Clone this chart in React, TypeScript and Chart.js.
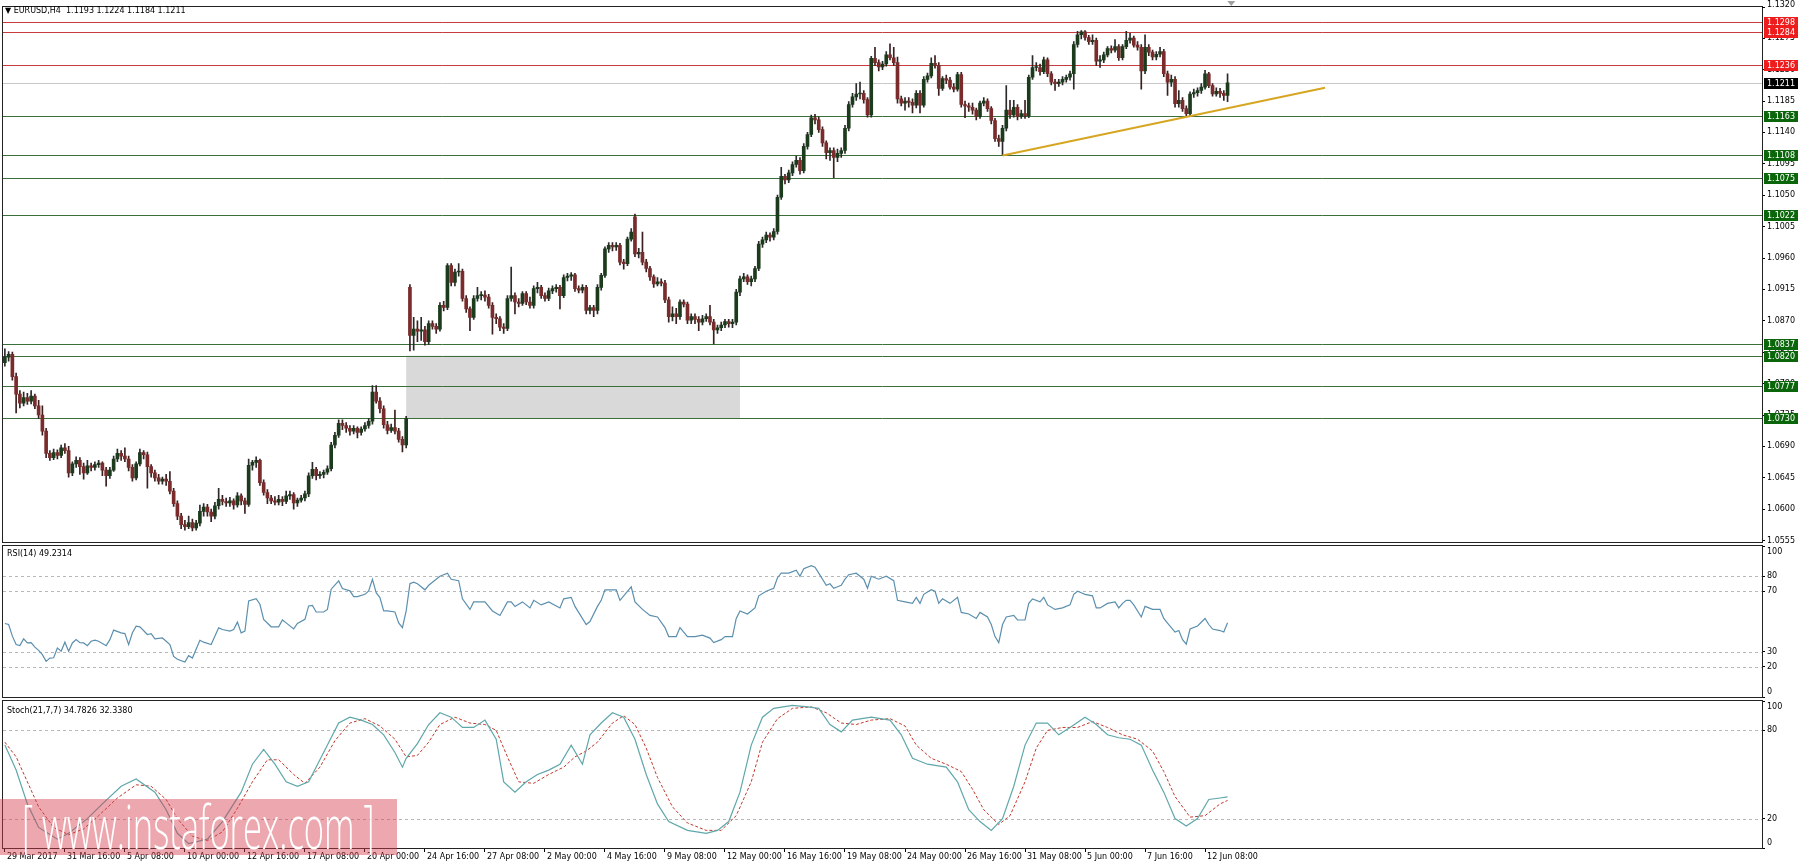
import { useEffect, useRef } from "react";
import { Chart, registerables } from "chart.js";
Chart.register(...registerables);

const W = 1800;
const H = 868;
const PLOT_LEFT = 3;
const AXIS_W = 38;
const X_MIN = -0.5;
const X_MAX = 468.5;
const MAIN_TOP = 1;
const MAIN_BOTTOM = 542;
const RSI_TOP = 546;
const RSI_BOTTOM = 697;
const STO_TOP = 701;
const STO_BOTTOM = 848;
const XAXIS_H = 20;

const headerText = "EURUSD,H4  1.1193 1.1224 1.1184 1.1211";
const rsiTitle = "RSI(14) 49.2314";
const stochTitle = "Stoch(21,7,7) 34.7826 32.3380";
const watermarkText = "[ www.instaforex.com ]";

const opens = [
  1.0810,1.0818,1.0822,1.0790,1.0765,1.0752,1.0760,1.0755,1.0762,1.0748,
  1.0735,1.0712,1.0680,1.0674,1.0681,1.0677,1.0688,1.0684,1.0652,1.0665,
  1.0670,1.0661,1.0652,1.0662,1.0660,1.0664,1.0666,1.0656,1.0648,1.0656,
  1.0672,1.0680,1.0676,1.0672,1.0660,1.0645,1.0665,1.0681,1.0678,1.0661,
  1.0652,1.0645,1.0640,1.0643,1.0640,1.0626,1.0608,1.0590,1.0578,1.0575,
  1.0581,1.0573,1.0580,1.0597,1.0603,1.0596,1.0590,1.0605,1.0614,1.0611,
  1.0609,1.0612,1.0606,1.0619,1.0612,1.0607,1.0663,1.0667,1.0670,1.0638,
  1.0624,1.0616,1.0612,1.0610,1.0614,1.0611,1.0619,1.0621,1.0609,1.0613,
  1.0616,1.0622,1.0648,1.0657,1.0648,1.0650,1.0653,1.0658,1.0692,1.0706,
  1.0723,1.0720,1.0716,1.0712,1.0716,1.0710,1.0715,1.0720,1.0726,1.0768,
  1.0755,1.0744,1.0721,1.0713,1.0717,1.0712,1.0700,1.0692,1.0918,1.0849,
  1.0858,1.0855,1.0857,1.0840,1.0866,1.0862,1.0858,1.0892,1.0889,1.0949,
  1.0925,1.0940,1.0941,1.0902,1.0887,1.0875,1.0902,1.0906,1.0907,1.0904,
  1.0892,1.0875,1.0873,1.0861,1.0859,1.0902,1.0906,1.0897,1.0895,1.0909,
  1.0897,1.0892,1.0916,1.0918,1.0906,1.0902,1.0913,1.0916,1.0918,1.0906,
  1.0932,1.0934,1.0936,1.0916,1.0914,1.0918,1.0885,1.0889,1.0885,1.0918,
  1.0935,1.0973,1.0978,1.0976,1.0978,1.0954,1.0952,1.0987,1.1019,1.0966,
  1.0968,1.0954,1.0945,1.0933,1.0923,1.0926,1.0924,1.0900,1.0876,1.0880,
  1.0876,1.0897,1.0894,1.0871,1.0876,1.0872,1.0868,1.0873,1.0876,1.0868,
  1.0857,1.0860,1.0864,1.0869,1.0866,1.0868,1.0911,1.0930,1.0933,1.0926,
  1.0930,1.0945,1.0980,1.0986,1.0993,1.0990,1.0998,1.1047,1.1077,1.1072,
  1.1082,1.1094,1.1100,1.1085,1.1120,1.1137,1.1161,1.1158,1.1144,1.1125,
  1.1111,1.1114,1.1104,1.1110,1.1114,1.1146,1.1180,1.1191,1.1195,1.1196,
  1.1187,1.1165,1.1246,1.1240,1.1234,1.1238,1.1251,1.1247,1.1240,1.1188,
  1.1182,1.1185,1.1183,1.1179,1.1196,1.1179,1.1216,1.1221,1.1239,1.1236,
  1.1203,1.1217,1.1215,1.1205,1.1202,1.1223,1.1180,1.1178,1.1176,1.1172,
  1.1163,1.1182,1.1185,1.1174,1.1157,1.1131,1.1127,1.1146,1.1172,1.1165,
  1.1176,1.1163,1.1167,1.1164,1.1219,1.1233,1.1233,1.1227,1.1244,1.1224,
  1.1212,1.1210,1.1212,1.1216,1.1219,1.1224,1.1266,1.1280,1.1284,1.1276,
  1.1270,1.1272,1.1242,1.1244,1.1251,1.1260,1.1258,1.1263,1.1247,1.1263,
  1.1272,1.1275,1.1265,1.1262,1.1228,1.1262,1.1255,1.1248,1.1252,1.1256,
  1.1224,1.1212,1.1216,1.1181,1.1186,1.1174,1.1167,1.1195,1.1197,1.1200,
  1.1205,1.1224,1.1207,1.1195,1.1199,1.1196,1.1193,
];
const highs = [
  1.0830,1.0826,1.0825,1.0795,1.0770,1.0768,1.0766,1.0770,1.0765,1.0756,
  1.0748,1.0716,1.0684,1.0686,1.0685,1.0692,1.0694,1.0690,1.0668,1.0675,
  1.0674,1.0666,1.0670,1.0666,1.0668,1.0670,1.0668,1.0660,1.0660,1.0676,
  1.0686,1.0684,1.0688,1.0676,1.0664,1.0668,1.0686,1.0684,1.0682,1.0664,
  1.0656,1.0650,1.0646,1.0650,1.0654,1.0630,1.0612,1.0594,1.0584,1.0590,
  1.0586,1.0584,1.0606,1.0608,1.0607,1.0600,1.0610,1.0630,1.0620,1.0616,
  1.0617,1.0615,1.0624,1.0622,1.0616,1.0672,1.0670,1.0675,1.0672,1.0642,
  1.0628,1.0620,1.0618,1.0620,1.0618,1.0626,1.0626,1.0624,1.0616,1.0620,
  1.0626,1.0652,1.0667,1.0660,1.0654,1.0656,1.0662,1.0696,1.0710,1.0728,
  1.0728,1.0724,1.0720,1.0720,1.0718,1.0718,1.0724,1.0730,1.0777,1.0777,
  1.0760,1.0748,1.0726,1.0722,1.0742,1.0716,1.0704,1.0733,1.0922,1.0875,
  1.0870,1.0875,1.0862,1.0870,1.0870,1.0866,1.0896,1.0898,1.0952,1.0952,
  1.0944,1.0952,1.0944,1.0906,1.0890,1.0906,1.0918,1.0912,1.0913,1.0908,
  1.0896,1.0880,1.0876,1.0866,1.0906,1.0947,1.0910,1.0902,1.0912,1.0912,
  1.0904,1.0920,1.0925,1.0921,1.0910,1.0917,1.0920,1.0922,1.0921,1.0936,
  1.0938,1.0939,1.0938,1.0920,1.0922,1.0921,1.0892,1.0892,1.0922,1.0938,
  1.0976,1.0982,1.0982,1.0982,1.0981,1.0958,1.0990,1.1002,1.1023,1.0974,
  1.0997,1.0958,1.0948,1.0936,1.0932,1.0930,1.0928,1.0904,1.0890,1.0888,
  1.0900,1.0900,1.0897,1.0880,1.0880,1.0876,1.0878,1.0880,1.0892,1.0872,
  1.0864,1.0868,1.0872,1.0872,1.0872,1.0915,1.0934,1.0938,1.0936,1.0934,
  1.0948,1.0984,1.0990,1.0997,1.0996,1.1002,1.1050,1.1090,1.1080,1.1086,
  1.1098,1.1106,1.1104,1.1124,1.1140,1.1165,1.1166,1.1162,1.1148,1.1128,
  1.1118,1.1118,1.1116,1.1118,1.1150,1.1184,1.1196,1.1210,1.1212,1.1200,
  1.1190,1.1249,1.1262,1.1244,1.1242,1.1256,1.1267,1.1262,1.1248,1.1192,
  1.1190,1.1190,1.1188,1.1200,1.1200,1.1220,1.1225,1.1247,1.1250,1.1240,
  1.1220,1.1222,1.1219,1.1210,1.1226,1.1226,1.1185,1.1182,1.1182,1.1175,
  1.1185,1.1190,1.1188,1.1177,1.1160,1.1136,1.1150,1.1207,1.1186,1.1186,
  1.1180,1.1172,1.1186,1.1222,1.1250,1.1240,1.1238,1.1248,1.1247,1.1227,
  1.1216,1.1216,1.1220,1.1222,1.1228,1.1270,1.1285,1.1286,1.1286,1.1279,
  1.1280,1.1275,1.1250,1.1255,1.1263,1.1264,1.1273,1.1266,1.1266,1.1285,
  1.1282,1.1278,1.1270,1.1266,1.1280,1.1266,1.1258,1.1256,1.1262,1.1259,
  1.1228,1.1222,1.1220,1.1200,1.1190,1.1178,1.1198,1.1202,1.1204,1.1210,
  1.1229,1.1226,1.1210,1.1204,1.1203,1.1200,1.1224,
];
const lows = [
  1.0805,1.0812,1.0785,1.0738,1.0745,1.0748,1.0750,1.0751,1.0744,1.0730,
  1.0706,1.0674,1.0670,1.0671,1.0672,1.0674,1.0680,1.0646,1.0648,1.0660,
  1.0650,1.0643,1.0650,1.0655,1.0656,1.0660,1.0648,1.0633,1.0644,1.0654,
  1.0668,1.0670,1.0668,1.0655,1.0640,1.0642,1.0662,1.0672,1.0630,1.0646,
  1.0640,1.0636,1.0636,1.0634,1.0622,1.0604,1.0585,1.0572,1.0570,1.0572,
  1.0569,1.0570,1.0576,1.0590,1.0590,1.0582,1.0586,1.0600,1.0606,1.0604,
  1.0604,1.0600,1.0603,1.0606,1.0594,1.0604,1.0656,1.0660,1.0634,1.0620,
  1.0608,1.0608,1.0606,1.0606,1.0605,1.0608,1.0614,1.0600,1.0604,1.0610,
  1.0612,1.0618,1.0644,1.0642,1.0644,1.0645,1.0650,1.0655,1.0688,1.0703,
  1.0714,1.0710,1.0706,1.0708,1.0702,1.0706,1.0712,1.0716,1.0722,1.0752,
  1.0738,1.0716,1.0708,1.0710,1.0708,1.0696,1.0682,1.0688,1.0827,1.0828,
  1.0840,1.0842,1.0835,1.0836,1.0858,1.0852,1.0855,1.0884,1.0886,1.0920,
  1.0920,1.0934,1.0898,1.0882,1.0856,1.0872,1.0898,1.0900,1.0898,1.0888,
  1.0851,1.0866,1.0856,1.0852,1.0856,1.0898,1.0880,1.0890,1.0892,1.0893,
  1.0888,1.0888,1.0910,1.0902,1.0898,1.0899,1.0909,1.0911,1.0887,1.0903,
  1.0927,1.0928,1.0912,1.0910,1.0910,1.0880,1.0880,1.0876,1.0880,1.0914,
  1.0932,1.0968,1.0970,1.0971,1.0950,1.0944,1.0949,1.0984,1.0962,1.0960,
  1.0950,1.0940,1.0928,1.0918,1.0920,1.0920,1.0896,1.0868,1.0870,1.0866,
  1.0872,1.0890,1.0866,1.0866,1.0866,1.0856,1.0864,1.0869,1.0864,1.0837,
  1.0852,1.0856,1.0860,1.0861,1.0860,1.0864,1.0906,1.0926,1.0922,1.0920,
  1.0926,1.0942,1.0975,1.0982,1.0984,1.0986,1.0994,1.1044,1.1066,1.1068,
  1.1078,1.1090,1.1080,1.1082,1.1116,1.1134,1.1152,1.1140,1.1120,1.1102,
  1.1100,1.1075,1.1098,1.1104,1.1110,1.1142,1.1176,1.1186,1.1188,1.1182,
  1.1162,1.1162,1.1236,1.1228,1.1230,1.1235,1.1244,1.1236,1.1182,1.1178,
  1.1172,1.1176,1.1168,1.1175,1.1168,1.1176,1.1212,1.1218,1.1232,1.1193,
  1.1200,1.1210,1.1202,1.1198,1.1199,1.1176,1.1161,1.1170,1.1166,1.1158,
  1.1160,1.1178,1.1170,1.1152,1.1127,1.1120,1.1108,1.1142,1.1160,1.1162,
  1.1158,1.1160,1.1160,1.1161,1.1216,1.1228,1.1222,1.1224,1.1220,1.1208,
  1.1200,1.1206,1.1208,1.1212,1.1215,1.1202,1.1262,1.1274,1.1272,1.1266,
  1.1266,1.1236,1.1233,1.1240,1.1248,1.1254,1.1255,1.1243,1.1244,1.1260,
  1.1268,1.1262,1.1258,1.1202,1.1224,1.1250,1.1244,1.1244,1.1248,1.1220,
  1.1193,1.1206,1.1176,1.1176,1.1170,1.1164,1.1163,1.1190,1.1192,1.1196,
  1.1202,1.1204,1.1192,1.1192,1.1190,1.1186,1.1184,
];
const closes = [
  1.0818,1.0822,1.0790,1.0765,1.0752,1.0760,1.0755,1.0762,1.0748,1.0735,
  1.0712,1.0680,1.0674,1.0681,1.0677,1.0688,1.0684,1.0652,1.0665,1.0670,
  1.0661,1.0652,1.0662,1.0660,1.0664,1.0666,1.0656,1.0648,1.0656,1.0672,
  1.0680,1.0676,1.0672,1.0660,1.0645,1.0665,1.0681,1.0678,1.0661,1.0652,
  1.0645,1.0640,1.0643,1.0640,1.0626,1.0608,1.0590,1.0578,1.0575,1.0581,
  1.0573,1.0580,1.0597,1.0603,1.0596,1.0590,1.0605,1.0614,1.0611,1.0609,
  1.0612,1.0606,1.0619,1.0612,1.0607,1.0663,1.0667,1.0670,1.0638,1.0624,
  1.0616,1.0612,1.0610,1.0614,1.0611,1.0619,1.0621,1.0609,1.0613,1.0616,
  1.0622,1.0648,1.0657,1.0648,1.0650,1.0653,1.0658,1.0692,1.0706,1.0723,
  1.0720,1.0716,1.0712,1.0716,1.0710,1.0715,1.0720,1.0726,1.0768,1.0755,
  1.0744,1.0721,1.0713,1.0717,1.0712,1.0700,1.0692,1.0730,1.0849,1.0858,
  1.0855,1.0857,1.0840,1.0866,1.0862,1.0858,1.0892,1.0889,1.0949,1.0925,
  1.0940,1.0941,1.0902,1.0887,1.0875,1.0902,1.0906,1.0907,1.0904,1.0892,
  1.0875,1.0873,1.0861,1.0859,1.0902,1.0906,1.0897,1.0895,1.0909,1.0897,
  1.0892,1.0916,1.0918,1.0906,1.0902,1.0913,1.0916,1.0918,1.0906,1.0932,
  1.0934,1.0936,1.0916,1.0914,1.0918,1.0885,1.0889,1.0885,1.0918,1.0935,
  1.0973,1.0978,1.0976,1.0978,1.0954,1.0952,1.0987,1.0997,1.0966,1.0968,
  1.0954,1.0945,1.0933,1.0923,1.0926,1.0924,1.0900,1.0876,1.0880,1.0876,
  1.0897,1.0894,1.0871,1.0876,1.0872,1.0868,1.0873,1.0876,1.0868,1.0857,
  1.0860,1.0864,1.0869,1.0866,1.0868,1.0911,1.0930,1.0933,1.0926,1.0930,
  1.0945,1.0980,1.0986,1.0993,1.0990,1.0998,1.1047,1.1077,1.1072,1.1082,
  1.1094,1.1100,1.1085,1.1120,1.1137,1.1161,1.1158,1.1144,1.1125,1.1111,
  1.1114,1.1104,1.1110,1.1114,1.1146,1.1180,1.1191,1.1195,1.1196,1.1187,
  1.1165,1.1246,1.1240,1.1234,1.1238,1.1251,1.1247,1.1240,1.1188,1.1182,
  1.1185,1.1183,1.1179,1.1196,1.1179,1.1216,1.1221,1.1239,1.1236,1.1203,
  1.1217,1.1215,1.1205,1.1202,1.1223,1.1180,1.1178,1.1176,1.1172,1.1163,
  1.1182,1.1185,1.1174,1.1157,1.1131,1.1127,1.1146,1.1172,1.1165,1.1176,
  1.1163,1.1167,1.1164,1.1219,1.1233,1.1233,1.1227,1.1244,1.1224,1.1212,
  1.1210,1.1212,1.1216,1.1219,1.1224,1.1266,1.1280,1.1284,1.1276,1.1270,
  1.1272,1.1242,1.1244,1.1251,1.1260,1.1258,1.1263,1.1247,1.1263,1.1272,
  1.1275,1.1265,1.1262,1.1228,1.1262,1.1255,1.1248,1.1252,1.1256,1.1224,
  1.1212,1.1216,1.1181,1.1186,1.1174,1.1167,1.1195,1.1197,1.1200,1.1205,
  1.1224,1.1207,1.1195,1.1199,1.1196,1.1193,1.1211,
];

const priceMin = 1.0553;
const priceMax = 1.1320;
const topPriceTick = 1.132;
const priceTicks = [1.1275,1.1230,1.1185,1.1140,1.1095,1.1050,1.1005,1.0960,1.0915,1.0870,1.0825,1.0780,1.0735,1.0690,1.0645,1.0600,1.0555];
const redLevels = [1.1298, 1.1284, 1.1236];
const greenLevels = [1.1163, 1.1108, 1.1075, 1.1022, 1.0837, 1.0820, 1.0777, 1.0730];
const bidPrice = 1.1211;
const zoneBars = [107, 196];
const zonePrices = [1.0730, 1.0820];
const trendBars = [266, 352];
const trendPrices = [1.1107, 1.1204];
const shiftMarkerBar = 327;

const rsiBars = [0,1,2,3,4,5,6,7,8,9,10,11,12,13,14,15,16,17,18,19,20,21,22,23,24,25,27,28,29,31,32,33,34,35,36,38,39,40,42,44,45,46,48,49,50,52,53,55,57,58,60,61,62,63,64,65,67,68,69,71,73,74,75,77,78,80,81,82,83,85,86,87,89,90,92,93,94,96,97,98,99,100,101,102,104,105,106,107,108,109,110,112,113,116,118,119,121,122,124,125,128,130,132,134,135,136,138,140,141,143,145,148,149,151,152,155,156,158,159,160,163,164,166,167,168,170,172,174,176,177,179,180,182,184,186,188,189,191,192,194,195,196,198,200,201,203,205,206,207,209,211,212,213,215,216,217,219,220,221,222,223,224,225,227,229,230,231,233,235,237,238,240,242,243,244,245,247,248,249,250,252,254,255,257,259,260,262,263,264,265,266,267,269,270,272,273,274,276,277,278,280,282,284,285,286,287,288,290,291,292,294,296,297,298,299,300,301,303,304,306,308,309,310,312,313,314,315,316,318,320,321,322,324,325,326];
const rsiValues = [48.7,48,40.3,34.7,34,38.5,35.8,36,33,30.9,28,23.6,25.8,26,32.5,30.3,36.3,30.3,35.8,38,36,35.8,34,36.9,37.6,36.9,34,38,44.3,42.5,42,34.7,42.5,46.9,46.5,41.4,42,38.5,39.1,34.7,26.9,25,23.1,27.4,25.8,37.6,36.3,34.7,45.8,44.7,43.6,44.7,49.6,42.5,43.6,63.6,65.1,61.4,51.4,46.5,46.5,51,49.1,45.1,48.7,51.4,60.3,60.7,56.3,56.3,58,71.4,76.9,71.8,70.3,66.5,66.5,68,70.3,78,69.1,65.8,57,57,56.3,49.1,46,57,75,76,75,71,74,80,82,78,77,65,58,63,63,57,54,63,63,60,63,59,64,61,63,59,65,66,60,48,50,60,64,71,71,64,70,73,63,58,54,53,46,40,40,46,40,40,41,39,36,38,40,40,52,57,55,59,67,70,72,79,82,82,84,80,85,87,86,82,74,75,72,73,74,78,81,82,78,72,80,78,80,77,64,63,62,66,62,68,71,70,62,65,62,66,56,55,52,56,53,48,40,36,48,53,54,51,51,62,65,63,66,61,58,59,61,68,70,69,68,67,59,59,62,63,59,62,64,64,61,53,60,58,58,52,49,43,44,38,35,45,47,52,48,45,44,43,49.2];
const rsiLevels = [80, 70, 30, 20];
const rsiTicks = [100, 80, 70, 30, 20, 0];

const stochKBars = [0,3,6,9,14,17,22,26,31,35,40,43,46,49,54,58,63,66,69,72,75,78,81,86,89,92,95,98,101,104,106,107,110,113,116,119,122,125,128,131,133,136,139,142,145,148,151,154,156,159,162,165,168,171,174,177,182,187,190,193,196,199,202,205,210,214,217,220,223,226,231,236,239,242,246,251,254,257,260,263,266,269,272,275,278,281,284,288,291,294,297,300,303,306,309,312,315,318,321,324,326];
const stochKValues = [70,53,30,14,6,10,20,30,42,47,38,26,10,3,6,18,38,57,67,57,45,42,45,70,85,89,87,84,77,65,55,61,71,84,92,89,82,82,87,74,45,38,45,50,53,57,70,57,77,85,92,89,74,50,30,18,12,10,12,18,38,70,89,95,97,96,95,84,79,87,89,87,77,61,57,55,45,26,18,12,20,42,70,85,85,77,82,89,84,77,75,74,70,53,38,20,15,20,33,34,34.78];
const stochDBars = [0,3,6,9,13,17,21,25,30,35,39,43,46,50,54,58,62,66,70,73,77,80,84,88,92,96,100,104,107,110,113,116,120,124,128,131,134,137,141,145,149,152,155,158,162,165,168,171,174,178,182,187,191,195,199,202,206,210,215,219,223,227,231,236,240,243,247,251,255,258,261,265,268,272,275,278,282,286,290,294,298,302,306,309,312,316,320,324,326];
const stochDValues = [72,62,45,28,14,9,13,22,34,43,42,33,20,8,5,11,27,45,60,60,50,44,55,73,85,88,83,74,62,63,72,84,89,85,84,80,62,45,44,50,55,62,66,72,85,90,84,68,48,28,17,12,12,22,45,72,88,95,96,92,85,84,87,88,83,70,61,57,52,40,26,16,22,45,68,80,82,82,86,82,77,74,66,52,35,21,22,30,32.34];
const stochLevels = [80, 20];
const stochTicks = [100, 80, 20, 0];

const timeTickBars = [0,16,32,48,64,80,96,112,128,144,160,176,192,208,224,240,256,272,288,304,320];
const timeTickLabels = ["29 Mar 2017","31 Mar 16:00","5 Apr 08:00","10 Apr 00:00","12 Apr 16:00","17 Apr 08:00","20 Apr 00:00","24 Apr 16:00","27 Apr 08:00","2 May 00:00","4 May 16:00","9 May 08:00","12 May 00:00","16 May 16:00","19 May 08:00","24 May 00:00","26 May 16:00","31 May 08:00","5 Jun 00:00","7 Jun 16:00","12 Jun 08:00"];

const BULL = "#1c3a1c";
const BEAR = "#7a2b2b";
const WICK_BULL = "#2a2a2a";
const WICK_BEAR = "#3a1f1f";
const FONT = "'DejaVu Sans', sans-serif";

function xScale(display: boolean): any {
  const s: any = {
    type: "linear",
    min: X_MIN,
    max: X_MAX,
    offset: false,
    display,
    afterBuildTicks: (sc: any) => { sc.ticks = timeTickBars.map((v) => ({ value: v })); },
    grid: { drawOnChartArea: false, drawTicks: true, tickLength: 4, color: "#000" },
    border: { display: false },
    ticks: {
      autoSkip: false, maxRotation: 0, align: "start", padding: 0, labelOffset: 2,
      color: "#000", font: { size: 8, family: FONT },
      callback: (_v: any, i: number) => timeTickLabels[i] ?? "",
    },
  };
  if (display) s.afterFit = (sc: any) => { sc.height = XAXIS_H; };
  return s;
}

function yScale(min: number, max: number, ticks: number[], fmt: (v: number) => string, hideEdges: boolean): any {
  return {
    type: "linear",
    position: "right",
    min, max,
    afterBuildTicks: (s: any) => { s.ticks = ticks.map((v) => ({ value: v })); },
    afterFit: (s: any) => { s.width = AXIS_W; },
    grid: { drawOnChartArea: false, drawTicks: true, tickLength: 3, color: "#000" },
    border: { display: true, color: "#000" },
    ticks: {
      autoSkip: false, padding: 2, color: "#000", font: { size: 8, family: FONT },
      callback: (v: any) => {
        const n = Number(v);
        if (hideEdges && (n === min || n === max)) return "";
        return fmt(n);
      },
    },
  };
}

function drawFrame(chart: any) {
  const { ctx, chartArea: a } = chart;
  ctx.save();
  ctx.strokeStyle = "#222";
  ctx.lineWidth = 1;
  ctx.strokeRect(Math.round(a.left) - 0.5, Math.round(a.top) - 0.5, Math.round(a.right - a.left) + 1, Math.round(a.bottom - a.top) + 1);
  ctx.restore();
}

function drawEdgeLabels(chart: any, topText: string, bottomText: string) {
  const { ctx, chartArea: a } = chart;
  ctx.save();
  ctx.font = `8px ${FONT}`;
  ctx.fillStyle = "#000";
  ctx.textBaseline = "middle";
  ctx.textAlign = "left";
  ctx.fillText(topText, a.right + 5, a.top + 6);
  ctx.fillText(bottomText, a.right + 5, a.bottom - 5);
  ctx.restore();
}

function drawLevels(chart: any, levels: number[]) {
  const { ctx, chartArea: a, scales } = chart;
  const y = scales.y;
  ctx.save();
  ctx.strokeStyle = "#b8b8b8";
  ctx.lineWidth = 1;
  ctx.setLineDash([3, 3]);
  levels.forEach((v) => {
    const py = Math.round(y.getPixelForValue(v)) + 0.5;
    ctx.beginPath();
    ctx.moveTo(a.left, py);
    ctx.lineTo(a.right, py);
    ctx.stroke();
  });
  ctx.restore();
}

const mainPlugin = {
  id: "mainDecor",
  beforeDatasetsDraw(chart: any) {
    const { ctx, chartArea: a, scales } = chart;
    const x = scales.x, y = scales.y;
    ctx.save();
    ctx.beginPath();
    ctx.rect(a.left, a.top, a.right - a.left, a.bottom - a.top);
    ctx.clip();
    const zx1 = x.getPixelForValue(zoneBars[0]);
    const zx2 = x.getPixelForValue(zoneBars[1]);
    const zy1 = y.getPixelForValue(zonePrices[1]);
    const zy2 = y.getPixelForValue(zonePrices[0]);
    ctx.fillStyle = "#d9d9d9";
    ctx.fillRect(zx1, zy1, zx2 - zx1, zy2 - zy1);
    const hline = (p: number, color: string) => {
      const py = Math.round(y.getPixelForValue(p)) + 0.5;
      ctx.strokeStyle = color;
      ctx.lineWidth = 1;
      ctx.beginPath();
      ctx.moveTo(a.left, py);
      ctx.lineTo(a.right, py);
      ctx.stroke();
    };
    hline(bidPrice, "#c8c8c8");
    redLevels.forEach((p) => hline(p, "#c43c3c"));
    greenLevels.forEach((p) => hline(p, "#3a6e3a"));
    ctx.restore();
  },
  afterDraw(chart: any) {
    const { ctx, chartArea: a, scales } = chart;
    const x = scales.x, y = scales.y;
    drawFrame(chart);
    ctx.save();
    ctx.font = `8px ${FONT}`;
    ctx.textBaseline = "middle";
    ctx.fillStyle = "#000";
    ctx.fillText(topPriceTick.toFixed(4), a.right + 5, 5);
    ctx.beginPath();
    ctx.strokeStyle = "#000";
    ctx.moveTo(a.right, Math.round(y.getPixelForValue(topPriceTick)) + 0.5);
    ctx.lineTo(a.right + 3, Math.round(y.getPixelForValue(topPriceTick)) + 0.5);
    ctx.stroke();
    const box = (p: number, bg: string) => {
      const py = Math.round(y.getPixelForValue(p));
      ctx.fillStyle = bg;
      ctx.fillRect(a.right + 2, py - 5, 34, 11);
      ctx.fillStyle = "#fff";
      ctx.fillText(p.toFixed(4), a.right + 5, py + 0.5);
    };
    redLevels.forEach((p) => box(p, "#ee1c1c"));
    greenLevels.forEach((p) => box(p, "#0b650b"));
    box(bidPrice, "#000");
    const mx = x.getPixelForValue(shiftMarkerBar);
    ctx.fillStyle = "#a0a0a0";
    ctx.beginPath();
    ctx.moveTo(mx - 4, 1);
    ctx.lineTo(mx + 4, 1);
    ctx.lineTo(mx, 6);
    ctx.closePath();
    ctx.fill();
    ctx.restore();
  },
};

const rsiPlugin = {
  id: "rsiDecor",
  beforeDatasetsDraw(chart: any) { drawLevels(chart, rsiLevels); },
  afterDraw(chart: any) { drawFrame(chart); drawEdgeLabels(chart, String(rsiTicks[0]), String(rsiTicks[rsiTicks.length - 1])); },
};
const stochPlugin = {
  id: "stochDecor",
  beforeDatasetsDraw(chart: any) { drawLevels(chart, stochLevels); },
  afterDraw(chart: any) { drawFrame(chart); drawEdgeLabels(chart, String(stochTicks[0]), String(stochTicks[stochTicks.length - 1])); },
};

const baseOptions = (top: number, bottom: number): any => ({
  responsive: false,
  animation: false,
  devicePixelRatio: 1,
  events: [],
  layout: { autoPadding: false, padding: { left: PLOT_LEFT, right: 0, top, bottom } },
  plugins: { legend: { display: false }, tooltip: { enabled: false }, title: { display: false } },
});

export default function App() {
  const mainRef = useRef<HTMLCanvasElement>(null);
  const rsiRef = useRef<HTMLCanvasElement>(null);
  const stoRef = useRef<HTMLCanvasElement>(null);

  useEffect(() => {
    const charts: Chart[] = [];
    const idx = closes.map((_, i) => i);
    const wickData = idx.map((i) => ({ x: i, y: [lows[i], highs[i]] }));
    const bodyData = idx.map((i) => ({ x: i, y: [Math.min(opens[i], closes[i]), Math.max(opens[i], closes[i])] }));
    const bull = (i: number) => closes[i] >= opens[i];

    if (mainRef.current) {
      charts.push(new Chart(mainRef.current, {
        type: "bar",
        data: {
          datasets: [
            {
              type: "line",
              data: trendBars.map((b, k) => ({ x: b, y: trendPrices[k] })),
              borderColor: "#d6a521",
              borderWidth: 2,
              pointRadius: 0,
              order: 0,
            } as any,
            {
              data: bodyData as any,
              backgroundColor: (c: any) => (bull(c.dataIndex) ? BULL : BEAR),
              borderWidth: 0,
              barThickness: 3,
              minBarLength: 1,
              grouped: false,
              order: 1,
            } as any,
            {
              data: wickData as any,
              backgroundColor: (c: any) => (bull(c.dataIndex) ? WICK_BULL : WICK_BEAR),
              borderWidth: 0,
              barThickness: 1,
              minBarLength: 1,
              grouped: false,
              order: 2,
            } as any,
          ],
        },
        options: {
          ...baseOptions(MAIN_TOP, H - MAIN_BOTTOM),
          scales: {
            x: xScale(false),
            y: yScale(priceMin, priceMax, priceTicks, (v) => v.toFixed(4), false),
          },
        },
        plugins: [mainPlugin],
      }));
    }

    if (rsiRef.current) {
      charts.push(new Chart(rsiRef.current, {
        type: "line",
        data: {
          datasets: [{
            data: rsiBars.map((b, k) => ({ x: b, y: rsiValues[k] })),
            borderColor: "#5b8fae",
            borderWidth: 1.2,
            pointRadius: 0,
            tension: 0,
          }],
        },
        options: {
          ...baseOptions(RSI_TOP, H - RSI_BOTTOM),
          scales: { x: xScale(false), y: yScale(0, 100, rsiTicks, (v) => String(v), true) },
        },
        plugins: [rsiPlugin],
      }));
    }

    if (stoRef.current) {
      charts.push(new Chart(stoRef.current, {
        type: "line",
        data: {
          datasets: [
            {
              data: stochKBars.map((b, k) => ({ x: b, y: stochKValues[k] })),
              borderColor: "#5fa7aa",
              borderWidth: 1.2,
              pointRadius: 0,
              tension: 0,
            },
            {
              data: stochDBars.map((b, k) => ({ x: b, y: stochDValues[k] })),
              borderColor: "#c0392b",
              borderWidth: 1,
              borderDash: [3, 2],
              pointRadius: 0,
              tension: 0,
            },
          ],
        },
        options: {
          ...baseOptions(STO_TOP, H - STO_BOTTOM - XAXIS_H),
          scales: { x: xScale(true), y: yScale(0, 100, stochTicks, (v) => String(v), true) },
        },
        plugins: [stochPlugin],
      }));
    }

    return () => charts.forEach((c) => c.destroy());
  }, []);

  const canvasStyle: any = { position: "absolute", left: 0, top: 0, width: W, height: H };
  const textStyle: any = { position: "absolute", font: `8px ${FONT}`, color: "#000", whiteSpace: "pre", lineHeight: "10px" };

  return (
    <div style={{ position: "fixed", left: 0, top: 0, width: W, height: H, background: "#fff", overflow: "hidden" }}>
      <canvas ref={mainRef} width={W} height={H} style={canvasStyle} />
      <canvas ref={rsiRef} width={W} height={H} style={canvasStyle} />
      <canvas ref={stoRef} width={W} height={H} style={canvasStyle} />
      <div style={{ ...textStyle, left: 5, top: 6 }}>{"▼ " + headerText}</div>
      <div style={{ ...textStyle, left: 7, top: 549 }}>{rsiTitle}</div>
      <div style={{ ...textStyle, left: 7, top: 706 }}>{stochTitle}</div>
      <div style={{ position: "absolute", left: 0, top: 799, width: 397, height: 56, background: "rgba(215,60,75,0.45)", overflow: "hidden" }}>
        <div style={{ position: "absolute", left: 22, top: -14, fontFamily: "'Open Sans', sans-serif", fontWeight: 300, fontSize: 60, color: "#fff", whiteSpace: "pre", transform: "scaleX(0.575)", transformOrigin: "left top" }}>{watermarkText}</div>
      </div>
    </div>
  );
}
